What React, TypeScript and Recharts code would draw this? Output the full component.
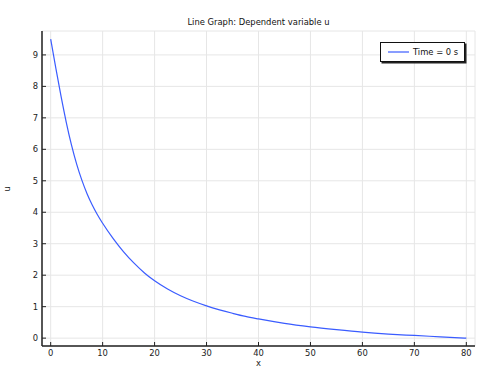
import React from "react";
import {
  CartesianGrid,
  Legend,
  Line,
  LineChart,
  XAxis,
  YAxis,
} from "recharts";

const xValues = [
  0, 1, 2, 3, 4, 5, 6, 7, 8, 9, 10, 12, 14, 16, 18, 20, 22.5, 25, 27.5, 30,
  32.5, 35, 37.5, 40, 45, 50, 55, 60, 65, 70, 75, 80,
];
const uValues = [
  9.5, 8.57, 7.68, 6.86, 6.14, 5.53, 5.02, 4.59, 4.23, 3.92, 3.65, 3.17, 2.75,
  2.39, 2.08, 1.82, 1.56, 1.345, 1.17, 1.025, 0.9, 0.79, 0.69, 0.61, 0.47,
  0.36, 0.27, 0.19, 0.13, 0.085, 0.043, 0.0,
];
const xTicks = [0, 10, 20, 30, 40, 50, 60, 70, 80];
const yTicks = [0, 1, 2, 3, 4, 5, 6, 7, 8, 9];
const seriesName = "Time = 0 s";
const title = "Line Graph: Dependent variable u";

const data = xValues.map((x, i) => ({ x, u: uValues[i] }));

const font = "DejaVu Sans, sans-serif";
const axisColor = "#222";
const lineColor = "#3a5cff";
const tickStyle = { fontSize: 8.4, fill: "#222", fontFamily: font };

function LegendBox({ payload }: any) {
  const item = payload && payload[0];
  return (
    <div
      style={{
        boxSizing: "border-box",
        width: 85,
        height: 20,
        border: "1px solid #111",
        boxShadow: "1.5px 1.5px 0 #222",
        background: "#fff",
        display: "flex",
        alignItems: "center",
        fontFamily: font,
        fontSize: 8.4,
        color: "#111",
      }}
    >
      <svg width={21} height={4} style={{ marginLeft: 7 }}>
        <line x1={0} y1={2} x2={21} y2={2} stroke={item ? item.color : lineColor} strokeWidth={1.2} />
      </svg>
      <span style={{ marginLeft: 4, whiteSpace: "nowrap" }}>{item ? item.value : seriesName}</span>
    </div>
  );
}

export default function App() {
  return (
    <div style={{ position: "absolute", left: 0, top: 0, width: 479, height: 366, background: "#fff" }}>
      <div
        style={{
          position: "absolute",
          left: 42,
          width: 433,
          top: 17,
          textAlign: "center",
          fontFamily: font,
          fontSize: 8.4,
          color: "#111",
          whiteSpace: "nowrap",
        }}
      >
        {title}
      </div>
      <LineChart width={479} height={366} data={data} margin={{ top: 31, right: 4, bottom: 0, left: 12 }}>
        <CartesianGrid stroke="#e6e6e6" strokeWidth={1} />
        <XAxis
          dataKey="x"
          type="number"
          domain={[-1.67, 81.67]}
          ticks={xTicks}
          allowDataOverflow
          height={20}
          tickSize={-4}
          tickMargin={8}
          tick={tickStyle}
          stroke={axisColor}
          axisLine={{ stroke: axisColor, strokeWidth: 1.5 }}
          tickLine={{ stroke: axisColor }}
          label={{ value: "x", position: "insideBottom", offset: 0.5, fontSize: 8.4, fill: "#222", fontFamily: font }}
        />
        <XAxis
          xAxisId="top"
          orientation="top"
          dataKey="x"
          type="number"
          domain={[-1.67, 81.67]}
          ticks={xTicks}
          allowDataOverflow
          height={0}
          tickSize={-4}
          tick={false}
          axisLine={{ stroke: axisColor, strokeWidth: 1.5 }}
          tickLine={{ stroke: axisColor }}
        />
        <YAxis
          type="number"
          domain={[-0.25, 9.76]}
          ticks={yTicks}
          allowDataOverflow
          width={30}
          tickSize={-4}
          tickMargin={8}
          tick={tickStyle}
          axisLine={{ stroke: axisColor, strokeWidth: 1.5 }}
          tickLine={{ stroke: axisColor }}
          label={{ value: "u", angle: -90, position: "insideLeft", offset: -5, dy: 3, fontSize: 8.4, fill: "#222", fontFamily: font }}
        />
        <YAxis
          yAxisId="right"
          orientation="right"
          type="number"
          domain={[-0.25, 9.76]}
          ticks={yTicks}
          allowDataOverflow
          width={0}
          tickSize={-4}
          tick={false}
          axisLine={{ stroke: axisColor, strokeWidth: 1.5 }}
          tickLine={{ stroke: axisColor }}
        />
        <Legend
          content={<LegendBox />}
          layout="horizontal"
          align="center"
          verticalAlign="middle"
          wrapperStyle={{ left: 380, top: 41.5, width: 85, height: 20 }}
        />
        <Line
          name={seriesName}
          dataKey="u"
          type="monotone"
          stroke={lineColor}
          strokeWidth={1.2}
          dot={false}
          activeDot={false}
          isAnimationActive={false}
        />
      </LineChart>
    </div>
  );
}
